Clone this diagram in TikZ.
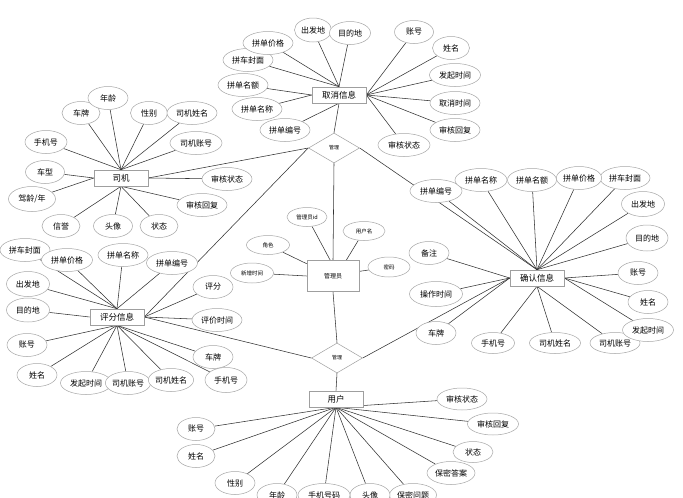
\documentclass[tikz,border=0pt]{standalone}
\usepackage{fontspec}
\setmainfont{Noto Sans CJK SC}
\usetikzlibrary{shapes.geometric}
\pgfdeclarelayer{background}
\pgfsetlayers{background,main}
\tikzset{
  ent/.style={rectangle, draw=gray!75, line width=0.6pt, fill=white, inner sep=0pt, minimum width=54pt, minimum height=16pt, font=\fontsize{8.5}{9}\selectfont},
  rel/.style={diamond, draw=gray!75, line width=0.5pt, fill=white, inner sep=0pt, minimum width=51pt, minimum height=30pt, font=\fontsize{5}{6}\selectfont},
  att/.style={ellipse, draw=gray!70, line width=0.5pt, fill=white, inner sep=0pt, minimum width=#1, minimum height=23pt, font=\fontsize{8}{9}\selectfont},
  att/.default=40pt,
  sma/.style={ellipse, draw=gray!70, line width=0.5pt, fill=white, inner sep=0pt, minimum width=43pt, minimum height=19pt, font=\fontsize{5.5}{6}\selectfont},
  lk/.style={draw=black!80, line width=0.55pt}
}
\begin{document}
\begin{tikzpicture}[x=1pt,y=-1pt]
\useasboundingbox (0,0) rectangle (683,498);

% entities and relations
\node[ent] (qx) at (339,95) {取消信息};
\node[ent] (sj) at (121,178) {司机};
\node[ent] (qr) at (537,278) {确认信息};
\node[ent] (pf) at (117,317) {评分信息};
\node[ent, minimum width=52pt, minimum height=31pt, font=\fontsize{6}{7}\selectfont] (gly) at (333,276) {管理员};
\node[ent] (yh) at (336,399) {用户};
\node[rel] (m1) at (334,148) {管理};
\node[rel] (m2) at (337,358) {管理};

% 取消信息 attributes
\node[att=37pt, minimum height=24pt] (q1) at (313,30) {出发地};
\node[att=41pt] (q2) at (350,33) {目的地};
\node[att=50pt] (q4) at (248,60) {拼车封面};
\node[att=50pt] (q3) at (268,43) {拼单价格};
\node[att=50pt] (q5) at (243,85) {拼单名额};
\node[att=50pt] (q6) at (257,109) {拼单名称};
\node[att=50pt] (q7) at (285,130) {拼单编号};
\node[att=39pt] (q8) at (414,32) {账号};
\node[att=37pt] (q9) at (451,48) {姓名};
\node[att=51pt] (q10) at (455,75) {发起时间};
\node[att=50pt] (q11) at (455,103) {取消时间};
\node[att=50pt] (q12) at (455,130) {审核回复};
\node[att=52pt] (q13) at (404,145) {审核状态};

% 司机 attributes
\node[att=38pt] (s1) at (81,113) {车牌};
\node[att=40pt] (s2) at (108,98) {年龄};
\node[att=37pt] (s3) at (149,113) {性别};
\node[att=50pt] (s4) at (192,113) {司机姓名};
\node[att=52pt] (s5) at (196,143) {司机账号};
\node[att=42pt] (s6) at (46,142) {手机号};
\node[att=39pt] (s7) at (45,172) {车型};
\node[att=47pt, minimum height=25pt] (s8) at (32,199) {驾龄/年};
\node[att=38pt] (s9) at (61,226) {信誉};
\node[att=39pt] (s10) at (113,226) {头像};
\node[att=38pt] (s11) at (159,226) {状态};
\node[att=50pt] (s12) at (227,179) {审核状态};
\node[att=50pt] (s13) at (202,205) {审核回复};

% 确认信息 attributes
\node[att=52pt] (r1) at (436,191) {拼单编号};
\node[att=52pt] (r2) at (481,180) {拼单名称};
\node[att=49pt] (r3) at (532,180) {拼单名额};
\node[att=50pt] (r4) at (625,178) {拼车封面};
\node[att=45pt] (r5) at (579,178) {拼单价格};
\node[att=43pt, minimum height=25pt] (r6) at (643,204) {出发地};
\node[att=42pt, minimum height=26pt] (r7) at (647,238) {目的地};
\node[att=40pt] (r8) at (638,273) {账号};
\node[att=40pt] (r9) at (648,302) {姓名};
\node[att=50pt, minimum height=21pt] (r11) at (615,343) {司机账号};
\node[att=51pt] (r10) at (648,330) {发起时间};
\node[att=51pt, minimum height=21pt] (r12) at (555,343) {司机姓名};
\node[att=43pt, minimum height=21pt] (r13) at (493,343) {手机号};
\node[att=40pt] (r14) at (436,333) {车牌};
\node[att=40pt] (r15) at (429,253) {备注};
\node[att=53pt, minimum height=25pt] (r16) at (436,294) {操作时间};

% 评分信息 attributes
\node[att=50pt] (p1) at (25,250) {拼车封面};
\node[att=51pt] (p2) at (67,260) {拼单价格};
\node[att=50pt] (p3) at (123,255) {拼单名称};
\node[att=51pt] (p4) at (172,263) {拼单编号};
\node[att=43pt, minimum height=25pt] (p5) at (28,284) {出发地};
\node[att=43pt, minimum height=24pt] (p6) at (28,310) {目的地};
\node[att=40pt] (p7) at (213,287) {评分};
\node[att=50pt] (p8) at (217,320) {评价时间};
\node[att=40pt] (p9) at (27,345) {账号};
\node[att=40pt] (p10) at (37,375) {姓名};
\node[att=51pt] (p11) at (86,383) {发起时间};
\node[att=43pt] (p12) at (128,383) {司机账号};
\node[att=44pt] (p13) at (171,380) {司机姓名};
\node[att=40pt] (p14) at (213,357) {车牌};
\node[att=42pt, minimum height=25pt] (p15) at (226,380) {手机号};

% 管理员 attributes
\node[sma, minimum width=40pt] (g1) at (307,217) {管理员id};
\node[sma, minimum width=42pt] (g2) at (364,231) {用户名};
\node[sma, minimum width=42pt, minimum height=20pt] (g3) at (389,267) {密码};
\node[sma] (g4) at (268,245) {角色};
\node[sma, minimum height=20pt] (g5) at (252,273) {新增时间};

% 用户 attributes
\node[att=50pt, minimum height=22pt] (u1) at (462,399) {审核状态};
\node[att=51pt, minimum height=22pt] (u2) at (493,424) {审核回复};
\node[att=40pt, minimum height=21pt] (u3) at (473,452) {状态};
\node[att=48pt] (u4) at (451,473) {保密答案};
\node[att=47pt] (u5) at (413,495) {保密问题};
\node[att=40pt] (u6) at (370,495) {头像};
\node[att=52pt] (u7) at (324,495) {手机号码};
\node[att=40pt] (u8) at (277,495) {年龄};
\node[att=40pt] (u9) at (235,483) {性别};
\node[att=38pt] (u10) at (196,456) {姓名};
\node[att=38pt] (u11) at (196,429) {账号};

\begin{pgfonlayer}{background}
\fill[white] (0,0) rectangle (683,498);

% relationship links
\draw[lk] (sj.east) -- (m1.west);
\draw[lk] (pf.east) -- (m1.west);
\draw[lk] (m1.east) -- (qr.north);
\draw[lk] (m1.north) -- (qx.south);
\draw[lk] (m1.south) -- (gly.north);
\draw[lk] (gly.south) -- (m2.north);
\draw[lk] (m2.south) -- (yh.north);
\draw[lk] (pf.east) -- (m2.west);
\draw[lk] (m2.east) -- (qr.west);

% 取消信息 links
\foreach \a in {q1,q2,q3,q4} \draw[lk] (\a) -- (qx.north);
\foreach \a in {q5,q6} \draw[lk] (\a) -- (qx.west);
\draw[lk] (q7) -- (qx.south);
\foreach \a in {q8,q9,q10,q11,q12,q13} \draw[lk] (\a) -- (qx.east);

% 司机 links
\foreach \a in {s1,s2,s3,s4,s5,s6} \draw[lk] (\a) -- (sj.north);
\foreach \a in {s7,s8} \draw[lk] (\a) -- (sj.west);
\foreach \a in {s9,s10,s11,s13} \draw[lk] (\a) -- (sj.south);
\draw[lk] (s12) -- (sj.east);

% 确认信息 links
\foreach \a in {r1,r2,r3,r4,r5,r6,r7} \draw[lk] (\a) -- (qr.north);
\foreach \a in {r8,r9,r10} \draw[lk] (\a) -- (qr.east);
\foreach \a in {r11,r12,r13} \draw[lk] (\a) -- (qr.south);
\foreach \a in {r14,r15,r16} \draw[lk] (\a) -- (qr.west);

% 评分信息 links
\foreach \a in {p1,p2,p3,p4,p5} \draw[lk] (\a) -- (pf.north);
\draw[lk] (p6) -- (pf.west);
\foreach \a in {p7,p8} \draw[lk] (\a) -- (pf.east);
\foreach \a in {p9,p10,p11,p12,p13,p14,p15} \draw[lk] (\a) -- (pf.south);

% 管理员 links
\draw[lk] (g1) -- (gly.100);
\draw[lk] (g2) -- (gly.50);
\draw[lk] (g3) -- (gly.10);
\draw[lk] (g4) -- (gly.155);
\draw[lk] (g5) -- (gly.west);

% 用户 links
\foreach \a in {u1,u2,u3,u4,u5,u6,u7,u8,u9,u10,u11} \draw[lk] (\a) -- (yh.south);
\end{pgfonlayer}
\end{tikzpicture}
\end{document}
